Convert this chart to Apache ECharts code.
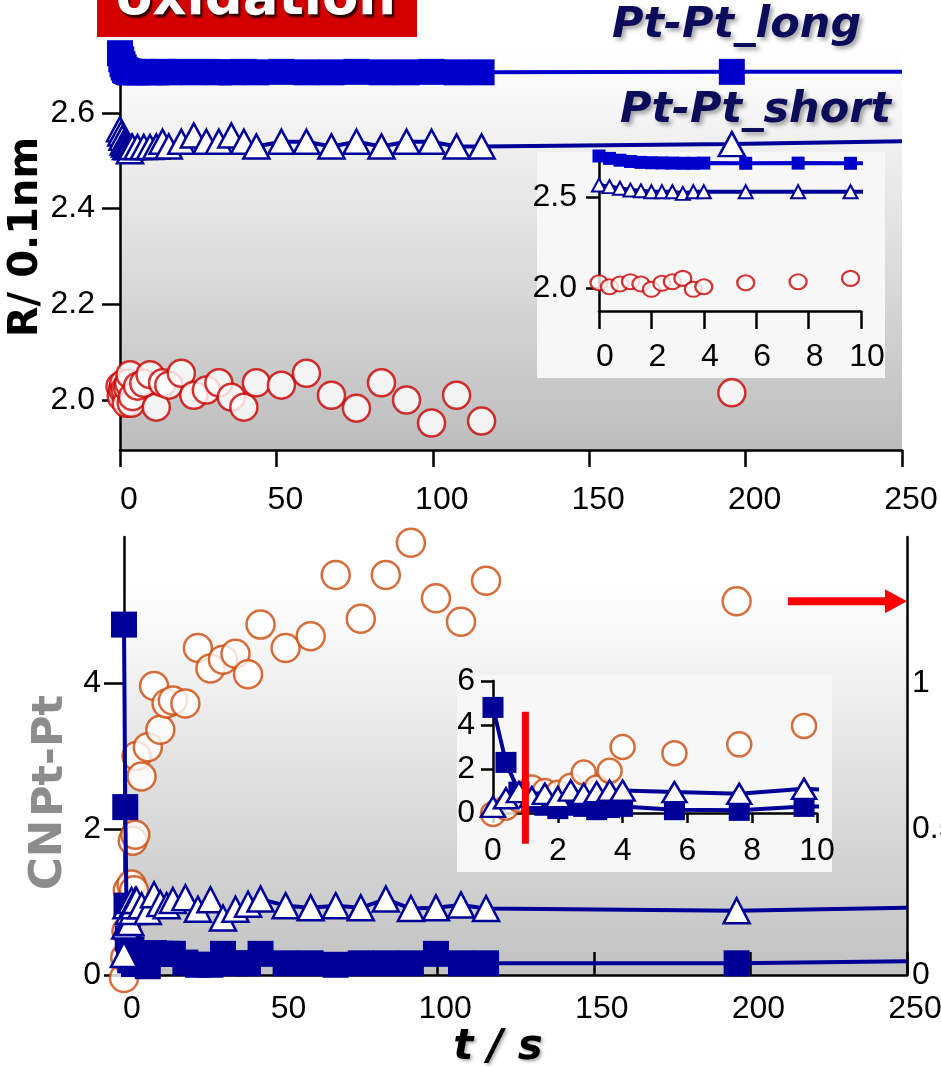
<!DOCTYPE html>
<html><head><meta charset="utf-8">
<script src="https://cdn.jsdelivr.net/npm/echarts@6/dist/echarts.min.js"></script>
<style>html,body{margin:0;padding:0;background:#fff;}#c{width:941px;height:1068px;}</style>
</head><body><div id="c"></div>
<script>
// ---- data ----
const times = [0,0.4,0.8,1.2,1.6,2.0,2.4,2.8,3.2,3.6,4.0,5.6,7.6,9.6,11.6,13.6,15.6,19.6,23.6,27.6,31.6,35.6,39.6,43.6,51.6,59.6,67.6,75.6,83.6,91.6,99.6,107.6,115.6,195.6];
const tEnd = 250;
// R / 0.1nm
const rLong = [2.725,2.712,2.702,2.695,2.690,2.688,2.687,2.686,2.685,2.685,2.686,2.685,2.686,2.685,2.685,2.686,2.685,2.686,2.685,2.686,2.685,2.685,2.686,2.685,2.686,2.685,2.685,2.686,2.685,2.685,2.686,2.685,2.685,2.686];
const rLongEnd = 2.686;
const rShort = [2.566,2.557,2.548,2.538,2.534,2.529,2.529,2.529,2.520,2.529,2.529,2.529,2.529,2.529,2.530,2.540,2.530,2.540,2.553,2.540,2.540,2.553,2.540,2.530,2.540,2.540,2.530,2.540,2.530,2.540,2.540,2.530,2.530,2.535];
const rShortEnd = 2.541;
const rPtO = [2.029,2.007,2.022,2.035,2.022,1.993,2.026,2.035,2.053,1.993,2.007,2.029,2.035,2.053,1.985,2.036,2.031,2.056,2.010,2.021,2.036,2.006,1.985,2.036,2.031,2.056,2.010,1.983,2.036,2.000,1.952,2.010,1.956,2.015];
// CN Pt-Pt
const cnLong = [4.8,2.3,0.95,0.5,0.35,0.2,0.35,0.3,0.15,0.25,0.3,0.15,0.12,0.3,0.29,0.29,0.29,0.17,0.14,0.14,0.29,0.16,0.16,0.29,0.16,0.16,0.14,0.16,0.16,0.16,0.29,0.16,0.16,0.16];
const cnLongEnd = 0.19;
const cnShort = [0.28,0.67,0.95,0.72,0.87,0.72,1.02,0.87,0.95,1.02,1.02,0.95,0.87,1.1,0.98,0.95,1.02,1.06,0.9,1.03,0.78,0.9,0.97,1.04,0.95,0.92,0.95,0.92,1.04,0.91,0.92,0.96,0.91,0.88];
const cnShortEnd = 0.92;
// right axis quantity (circles)
const rightVal = [-0.01,0.06,0.15,0.29,0.25,0.23,0.31,0.46,0.29,0.48,0.75,0.68,0.78,0.99,0.84,0.93,0.94,0.93,1.12,1.05,1.08,1.10,1.03,1.20,1.12,1.16,1.37,1.22,1.37,1.48,1.29,1.21,1.35,1.28];
// tick labels
const rTicks = [2.0,2.2,2.4,2.6];
const rInsetTicks = [2.0,2.5];
const cnTicks = [0,2,4];
const rightTicks = [0,0.5,1];
// annotations
const arrowT = [212, 250];
const arrowLevel = 1.28;
const markT = 1.0;
const markSpan = [4.6, -1.4];
const insetMaxT = 10;

// ---- helpers ----
const pairs = vals => times.map((t,i)=>[t, vals[i]]);
const withEnd = (vals,end) => pairs(vals).concat([{value:[tEnd,end], symbol:'none'}]);
const inInset = vals => pairs(vals).filter(p => p[0] <= insetMaxT);

const FONT = 'Liberation Sans';
const axLine = {show:true, onZero:false, lineStyle:{color:'#000', width:2.5}};
const tickStyle = {color:'#000', width:2.5};
const lbl = (o) => Object.assign({color:'#000', fontFamily:FONT, fontSize:32}, o);

const grad = (stops) => new echarts.graphic.LinearGradient(0,0,0,1, stops.map(s=>({offset:s[0], color:s[1]})));

const NAVY = '#000099', BLUE = '#0000cc', RED = '#cc0000', ORANGE = '#cc4a0a';

const option = {
  animation:false,
  grid:[
    {left:120, top:50, width:782, height:400, show:true, borderWidth:0, outerBoundsMode:'none', containLabel:false,
     backgroundColor: grad([[0,'#ffffff'],[0.08,'#fafafa'],[0.5,'#dedede'],[1,'#bdbdbd']])},
    {left:124, top:537, width:783, height:438, show:true, borderWidth:0, outerBoundsMode:'none', containLabel:false,
     backgroundColor: grad([[0,'#ffffff'],[0.1,'#ffffff'],[0.265,'#f5f5f5'],[0.6,'#dcdcdc'],[1,'#c2c2c2']])},
    {left:599, top:152, width:262, height:159, outerBoundsMode:'none', containLabel:false},
    {left:493, top:681, width:324, height:132, outerBoundsMode:'none', containLabel:false}
  ],
  xAxis:[
    {gridIndex:0, type:'value', min:0, max:250, interval:50, axisLine:axLine,
     axisTick:{length:17, lineStyle:tickStyle}, splitLine:{show:false},
     axisLabel:lbl({margin:34, padding:[0,0,0,18]})},
    {gridIndex:1, type:'value', min:0, max:250, interval:50, axisLine:axLine,
     axisTick:{length:23, inside:true, lineStyle:tickStyle}, splitLine:{show:false},
     axisLabel:lbl({margin:18, padding:[0,0,0,16]})},
    {gridIndex:2, type:'value', min:0, max:10, interval:2, z:5, axisLine:axLine,
     axisTick:{length:18, lineStyle:tickStyle}, splitLine:{show:false},
     axisLabel:lbl({margin:30, padding:[0,0,0,12]})},
    {gridIndex:3, type:'value', min:0, max:10, interval:2, z:5, axisLine:axLine,
     axisTick:{length:10, lineStyle:tickStyle}, splitLine:{show:false},
     axisLabel:lbl({margin:22})}
  ],
  yAxis:[
    {gridIndex:0, type:'value', min:1.8955, max:2.7317, axisLine:axLine,
     axisTick:{length:18, lineStyle:tickStyle, customValues:rTicks}, splitLine:{show:false},
     axisLabel:lbl({margin:25, customValues:rTicks, formatter:v=>v.toFixed(1)})},
    {gridIndex:1, type:'value', min:0, max:6, axisLine:axLine,
     axisTick:{length:20, lineStyle:tickStyle, customValues:cnTicks}, splitLine:{show:false},
     axisLabel:lbl({margin:23, customValues:cnTicks})},
    {gridIndex:1, type:'value', min:0, max:1.5, position:'right', axisLine:axLine,
     axisTick:{show:false}, splitLine:{show:false},
     axisLabel:lbl({margin:5, customValues:rightTicks})},
    {gridIndex:2, type:'value', min:1.874, max:2.747, z:5, axisLine:axLine,
     axisTick:{length:13, lineStyle:tickStyle, customValues:rInsetTicks}, splitLine:{show:false},
     axisLabel:lbl({margin:22, customValues:rInsetTicks, formatter:v=>v.toFixed(1)})},
    {gridIndex:3, type:'value', min:0, max:6, interval:2, z:5, axisLine:axLine,
     axisTick:{length:12, lineStyle:tickStyle}, splitLine:{show:false},
     axisLabel:lbl({margin:18})},
    {gridIndex:3, type:'value', min:0, max:1.5, show:false}
  ],
  series:[
    // main top
    {type:'scatter', xAxisIndex:0, yAxisIndex:0, clip:false, data:pairs(rPtO), symbol:'circle', symbolSize:27,
     itemStyle:{color:'#fff', borderColor:RED, borderWidth:2.5}, silent:true},
    {type:'line', xAxisIndex:0, yAxisIndex:0, clip:false, data:withEnd(rShort,rShortEnd), symbol:'triangle', symbolSize:[26,24],
     itemStyle:{color:'#fff', borderColor:NAVY, borderWidth:2.5}, lineStyle:{color:NAVY, width:4}, silent:true},
    {type:'line', xAxisIndex:0, yAxisIndex:0, clip:false, data:withEnd(rLong,rLongEnd), symbol:'rect', symbolSize:26,
     itemStyle:{color:BLUE, borderWidth:0}, lineStyle:{color:BLUE, width:4}, silent:true},
    // main bottom
    {type:'scatter', xAxisIndex:1, yAxisIndex:2, clip:false, data:pairs(rightVal), symbol:'circle', symbolSize:28,
     itemStyle:{color:'#fff', borderColor:ORANGE, borderWidth:2.5}, silent:true},
    {type:'line', xAxisIndex:1, yAxisIndex:1, clip:false, data:withEnd(cnLong,cnLongEnd), symbol:'rect', symbolSize:26,
     itemStyle:{color:NAVY, borderWidth:0}, lineStyle:{color:NAVY, width:4}, silent:true},
    {type:'line', xAxisIndex:1, yAxisIndex:1, clip:false, data:withEnd(cnShort,cnShortEnd), symbol:'triangle', symbolSize:[26,25],
     itemStyle:{color:'#fff', borderColor:NAVY, borderWidth:2.5}, lineStyle:{color:NAVY, width:4}, silent:true},
    // inset top
    {type:'scatter', xAxisIndex:2, yAxisIndex:3, z:5, clip:false, data:inInset(rPtO), symbol:'circle', symbolSize:[17,15],
     itemStyle:{color:'#fff', borderColor:RED, borderWidth:2.2}, silent:true},
    {type:'line', xAxisIndex:2, yAxisIndex:3, z:5, clip:true, data:pairs(rShort), symbol:'triangle', symbolSize:[14,13],
     itemStyle:{color:'#fff', borderColor:NAVY, borderWidth:2}, lineStyle:{color:NAVY, width:4}, silent:true},
    {type:'line', xAxisIndex:2, yAxisIndex:3, z:5, clip:true, data:pairs(rLong), symbol:'rect', symbolSize:13,
     itemStyle:{color:BLUE, borderWidth:0}, lineStyle:{color:BLUE, width:4}, silent:true},
    // inset bottom
    {type:'scatter', xAxisIndex:3, yAxisIndex:5, z:5, clip:false, data:inInset(rightVal), symbol:'circle', symbolSize:24,
     itemStyle:{color:'#fff', borderColor:ORANGE, borderWidth:2.5}, silent:true},
    {type:'line', xAxisIndex:3, yAxisIndex:4, z:5, clip:true, data:pairs(cnLong), symbol:'rect', symbolSize:21,
     itemStyle:{color:NAVY, borderWidth:0}, lineStyle:{color:NAVY, width:4}, silent:true},
    {type:'line', xAxisIndex:3, yAxisIndex:4, z:5, clip:true, data:pairs(cnShort), symbol:'triangle', symbolSize:[24,20],
     itemStyle:{color:'#fff', borderColor:NAVY, borderWidth:2.5}, lineStyle:{color:NAVY, width:4}, silent:true}
  ]
};

const chart = echarts.init(document.getElementById('c'), null, {renderer:'canvas'});
chart.setOption(option);

const a1 = chart.convertToPixel({seriesIndex:3}, [arrowT[0], arrowLevel]);
const a2 = chart.convertToPixel({seriesIndex:3}, [arrowT[1], arrowLevel]);
const m1 = chart.convertToPixel({seriesIndex:10}, [markT, markSpan[0]]);
const m2 = chart.convertToPixel({seriesIndex:10}, [markT, markSpan[1]]);

const shadowT = {textShadowColor:'rgba(0,0,0,0.35)', textShadowBlur:4, textShadowOffsetX:3, textShadowOffsetY:3};
const ctr = {align:'center', verticalAlign:'middle', textAlign:'center', textVerticalAlign:'middle'};
const lft = {align:'left', verticalAlign:'middle', textAlign:'left', textVerticalAlign:'middle'};
chart.setOption({graphic:{elements:[
  {type:'rect', z:1, shape:{x:537, y:152, width:348, height:226}, style:{fill:'#f7f7f7'}, silent:true},
  {type:'rect', z:1, shape:{x:457, y:675, width:375, height:197}, style:{fill:'#f7f7f7'}, silent:true},
  {type:'rect', z:20, shape:{x:97, y:-5, width:320, height:42}, style:{fill:'#d40000'}, silent:true},
  {type:'text', z:21, x:256, y:0, style:Object.assign({text:'oxidation', font:'bold 53px "DejaVu Sans"', fill:'#fff'}, ctr,
     {textShadowColor:'rgba(0,0,0,0.8)', textShadowBlur:2, textShadowOffsetX:2, textShadowOffsetY:3}), silent:true},
  {type:'text', z:21, x:612, y:26, style:Object.assign({text:'Pt-Pt_long', font:'italic bold 43px "DejaVu Sans"', fill:'#0c0c5a'}, lft, shadowT), silent:true},
  {type:'text', z:21, x:620, y:111, style:Object.assign({text:'Pt-Pt_short', font:'italic bold 43px "DejaVu Sans"', fill:'#0c0c5a'}, lft, shadowT), silent:true},
  {type:'text', z:21, x:27, y:237, rotation:Math.PI/2, style:Object.assign({text:'R/ 0.1nm', font:'bold 40px "DejaVu Sans"', fill:'#000'}, ctr), silent:true},
  {type:'text', z:21, x:49, y:855, rotation:Math.PI/2, style:Object.assign({text:'CN', font:'bold 45px "DejaVu Sans"', fill:'#8c8c8c'}, ctr), silent:true},
  {type:'text', z:21, x:51, y:756, rotation:Math.PI/2, style:Object.assign({text:'Pt-Pt', font:'bold 43px "DejaVu Sans"', fill:'#8c8c8c'}, ctr), silent:true},
  {type:'text', z:21, x:498, y:1048, style:Object.assign({text:'t / s', font:'italic bold 42px "DejaVu Sans"', fill:'#000'}, ctr,
     {textShadowColor:'rgba(0,0,0,0.3)', textShadowBlur:3, textShadowOffsetX:2, textShadowOffsetY:2}), silent:true},
  {type:'line', z:20, shape:{x1:a1[0], y1:a1[1], x2:a2[0]-20, y2:a2[1]}, style:{stroke:'#ff0000', lineWidth:8}, silent:true},
  {type:'polygon', z:20, shape:{points:[[a2[0]-22, a2[1]-12],[a2[0], a2[1]],[a2[0]-22, a2[1]+12]]}, style:{fill:'#ff0000'}, silent:true},
  {type:'line', z:20, shape:{x1:m1[0], y1:m1[1], x2:m2[0], y2:m2[1]}, style:{stroke:'#ff0000', lineWidth:7}, silent:true}
]}});
</script>
</body></html>
